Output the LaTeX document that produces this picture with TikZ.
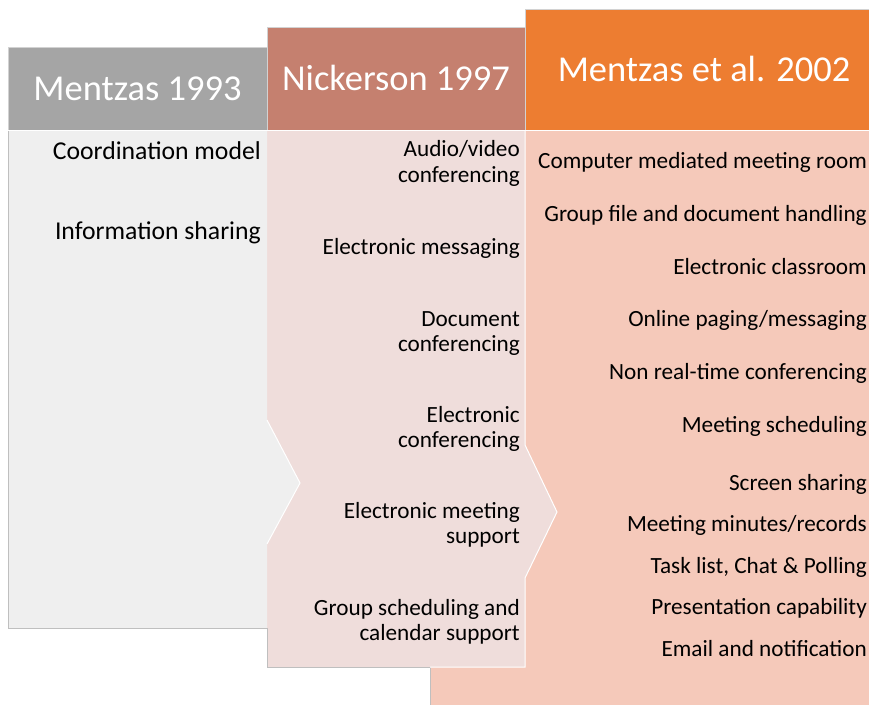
\documentclass[tikz,border=0pt]{standalone}
\usepackage{fontspec}
\setmainfont{Carlito}
\definecolor{grayHead}{HTML}{A5A5A5}
\definecolor{grayBody}{HTML}{EFEFEF}
\definecolor{roseHead}{HTML}{C5806F}
\definecolor{roseBody}{HTML}{EFDDDB}
\definecolor{orangeHead}{HTML}{ED7D31}
\definecolor{orangeBody}{HTML}{F5C9BA}
\definecolor{edgeGray}{HTML}{BFBFBF}
\newcommand\twolines[1]{\begin{tabular}[t]{@{}r@{}}#1\end{tabular}}
\tikzset{
  outer/.style={draw=edgeGray, line width=1bp},
  inner/.style={draw=white, line width=1bp},
  head/.style={anchor=base, inner sep=0pt, text=white,
    font=\fontsize{36.6}{44}\selectfont},
  itemA/.style={anchor=base east, inner sep=0pt,
    font=\fontsize{25.8}{30}\selectfont},
  itemB/.style={anchor=base east, inner sep=0pt,
    font=\fontsize{23.3}{25.8}\selectfont},
}
\begin{document}
\begin{tikzpicture}[x=1bp,y=-1bp]
\useasboundingbox (0,0) rectangle (869,705);
\begin{scope}
\clip (0,0) rectangle (869,705);

% third column (lowest layer)
\fill[orangeBody] (430,131) rectangle (900,720);
\draw[outer] (430,667) -- (430,720);
\fill[orangeHead] (525,10) rectangle (900,131);
\draw[outer, draw=edgeGray!70] (525,131) -- (525,10) -- (900,10);

% second column with its chevron
\fill[roseBody] (267,131) -- (525,131) -- (525,445) -- (557,512)
  -- (525,578) -- (525,667) -- (267,667) -- cycle;
\draw[inner] (525,131) -- (525,445) -- (557,512) -- (525,578)
  -- (525,667) -- (430,667);
\draw[outer] (430,667) -- (267,667) -- (267,628);
\fill[roseHead] (267,28) rectangle (525,131);
\draw[outer, draw=edgeGray!70] (267,48) -- (267,28) -- (525,28) -- (525,131);

% first column with its chevron
\fill[grayBody] (8,131) -- (267,131) -- (267,420) -- (300,483)
  -- (267,544) -- (267,628) -- (8,628) -- cycle;
\draw[inner] (267,420) -- (300,483) -- (267,544);
\draw[outer] (267,628) -- (8,628) -- (8,131);
\fill[grayHead] (8,48) rectangle (267,131);
\draw[outer, draw=edgeGray!70] (8,131) -- (8,48) -- (267,48) -- (267,131);

% separator between the headers and the lists
\draw[inner] (8,131) -- (900,131);
\end{scope}

% headers
\node[head] (h1) at (137.5,101) {Mentzas 1993};
\node[head] (h2) at (396,91) {Nickerson 1997};
\node[head] (h3) at (704,82) {Mentzas et al. 2002};

% Mentzas 1993
\node[itemA] (a1) at (261,160) {Coordination model};
\node[itemA] (a2) at (261,239) {Information sharing};

% Nickerson 1997
\node[itemB] (b1) at (520,157) {\twolines{Audio/video\\conferencing}};
\node[itemB] (b2) at (520,254) {Electronic messaging};
\node[itemB] (b3) at (520,326) {\twolines{Document\\conferencing}};
\node[itemB] (b4) at (520,422) {\twolines{Electronic\\conferencing}};
\node[itemB] (b5) at (520,518) {\twolines{Electronic meeting\\support}};
\node[itemB] (b6) at (520,615) {\twolines{Group scheduling and\\calendar support}};

% Mentzas et al. 2002
\node[itemB] (c1)  at (867,169)   {Computer mediated meeting room};
\node[itemB] (c2)  at (867,221.6) {Group file and document handling};
\node[itemB] (c3)  at (867,274.2) {Electronic classroom};
\node[itemB] (c4)  at (867,326.8) {Online paging/messaging};
\node[itemB] (c5)  at (867,379.4) {Non real-time conferencing};
\node[itemB] (c6)  at (867,432)   {Meeting scheduling};
\node[itemB] (c7)  at (867,490)   {Screen sharing};
\node[itemB] (c8)  at (867,531.5) {Meeting minutes/records};
\node[itemB] (c9)  at (867,573)   {Task list, Chat \& Polling};
\node[itemB] (c10) at (867,614.5) {Presentation capability};
\node[itemB] (c11) at (867,656)   {Email and notification};
\end{tikzpicture}
\end{document}
